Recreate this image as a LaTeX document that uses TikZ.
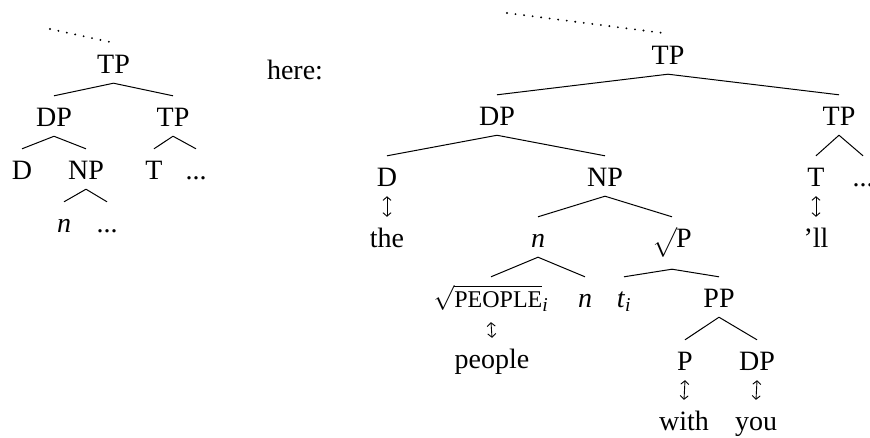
\documentclass[tikz,border=0pt]{standalone}
\usepackage{amsmath}
\usepackage{fontspec}
\setmainfont{Liberation Serif}
\usetikzlibrary{arrows.meta}
\begin{document}
\begin{tikzpicture}[x=1pt,y=-1pt,
  lab/.style={anchor=base, inner xsep=0pt, inner ysep=10pt, text height=20pt,
    font=\fontsize{28}{30}\selectfont},
  br/.style={line width=1pt},
  corr/.style={line width=0.9pt,
    {Straight Barb[length=3.5pt,width=8pt]}-{Straight Barb[length=3.5pt,width=8pt]}},
  dotline/.style={line width=2.1pt, line cap=round, dash pattern=on 0pt off 8.6pt}]
\useasboundingbox (0,0) rectangle (870,437);
% ---------- left tree ----------
\coordinate (ldA) at (50,29);
\coordinate (ldB) at (110,42);
\node[lab] (lTP) at (113.5,73) {TP};
\node[lab] (lDP) at (54,126) {DP};
\node[lab] (lTPb) at (173,126) {TP};
\node[lab] (lD) at (22,179) {D};
\node[lab] (lNP) at (86,179) {NP};
\node[lab] (lT) at (154,179) {T};
\node[lab] (lDots) at (196,179) {...};
\node[lab] (ln) at (64,232) {\textit{n}};
\node[lab] (lDots2) at (107,232) {...};
\node[lab] (here) at (295,79) {here:};
\draw[dotline] (ldA) -- (ldB);
\draw[br] (lTP.south) -- (lDP.north);
\draw[br] (lTP.south) -- (lTPb.north);
\draw[br] (lDP.south) -- (lD.north);
\draw[br] (lDP.south) -- (lNP.north);
\draw[br] (lTPb.south) -- (lT.north);
\draw[br] (lTPb.south) -- (lDots.north);
\draw[br] (lNP.south) -- (ln.north);
\draw[br] (lNP.south) -- (lDots2.north);
% ---------- right tree ----------
\coordinate (rdA) at (507,13);
\coordinate (rdB) at (663,33);
\node[lab] (TP) at (668,64) {TP};
\node[lab] (DP) at (497,125) {DP};
\node[lab] (TPb) at (839,125) {TP};
\node[lab] (D) at (387,186) {D};
\node[lab] (NP) at (605,186) {NP};
\node[lab] (T) at (816,186) {T};
\node[lab] (rdots) at (863,186) {...};
\node[lab] (the) at (387,247) {the};
\node[lab] (n) at (538,247) {\textit{n}};
\node[lab, text depth=12pt] (rootP) at (672,247) {$\sqrt{\rule[-9pt]{0pt}{25pt}}$\kern-1pt P};
\node[lab] (ll) at (816,247) {’ll};
\node[lab, text depth=5pt] (root) at (491,307) {$\sqrt{\hbox{\fontsize{24}{24}\selectfont PEOPLE}}_{\textit{i}}$};
\node[lab] (n2) at (585,307) {\textit{n}};
\node[lab] (t) at (624,307) {\textit{t}$_{\textit{i}}$};
\node[lab] (PP) at (719,307) {PP};
\node[lab] (people) at (492,368) {people};
\node[lab] (P) at (685,370) {P};
\node[lab] (DP2) at (757,370) {DP};
\node[lab] (with) at (684,430) {with};
\node[lab] (you) at (756,430) {you};
\draw[dotline] (rdA) -- (rdB);
\draw[br] (TP.south) -- (DP.north);
\draw[br] (TP.south) -- (TPb.north);
\draw[br] (DP.south) -- (D.north);
\draw[br] (DP.south) -- (NP.north);
\draw[br] (TPb.south) -- (T.north);
\draw[br] (TPb.south) -- (rdots.north);
\draw[br] (NP.south) -- (n.north);
\draw[br] (NP.south) -- (rootP.north);
\draw[br] (n.south) -- (root.north);
\draw[br] (n.south) -- (n2.north);
\draw[br] (rootP.south) -- (t.north);
\draw[br] (rootP.south) -- (PP.north);
\draw[br] (PP.south) -- (P.north);
\draw[br] (PP.south) -- (DP2.north);
\draw[corr] (D.south) -- (the.north);
\draw[corr] (T.south) -- (ll.north);
\draw[corr] (root.south) -- (people.north);
\draw[corr] (P.south) -- (with.north);
\draw[corr] (DP2.south) -- (you.north);
\end{tikzpicture}
\end{document}
